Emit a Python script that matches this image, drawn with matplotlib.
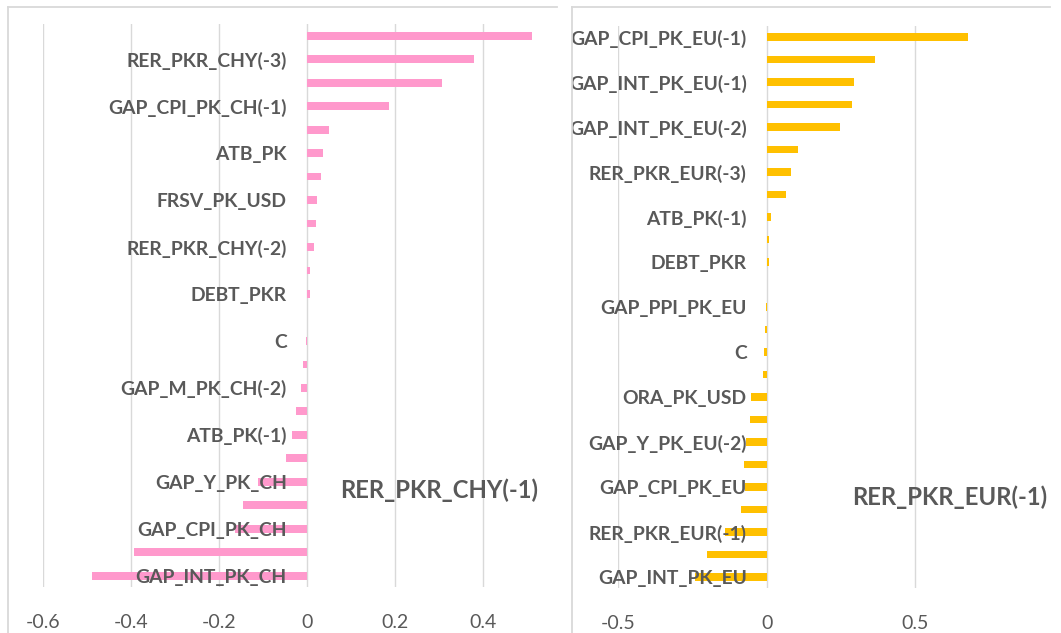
import matplotlib
matplotlib.use("Agg")
import matplotlib.pyplot as plt
from matplotlib.patches import Rectangle
from matplotlib.lines import Line2D

# ---------------- data ----------------
left_title = "RER_PKR_CHY(-1)"
left_labels = ["", "RER_PKR_CHY(-3)", "", "GAP_CPI_PK_CH(-1)", "", "ATB_PK",
               "", "FRSV_PK_USD", "", "RER_PKR_CHY(-2)", "", "DEBT_PKR",
               "", "C", "", "GAP_M_PK_CH(-2)", "", "ATB_PK(-1)",
               "", "GAP_Y_PK_CH", "", "GAP_CPI_PK_CH", "", "GAP_INT_PK_CH"]
left_values = [0.513, 0.381, 0.307, 0.187, 0.050, 0.036,
               0.032, 0.024, 0.022, 0.017, 0.0065, 0.0065,
               0.001, -0.001, -0.008, -0.014, -0.025, -0.033,
               -0.046, -0.110, -0.144, -0.162, -0.392, -0.488]
left_xticks = [-0.6, -0.4, -0.2, 0, 0.2, 0.4, 0.6]
left_xticklabels = ["-0.6", "-0.4", "-0.2", "0", "0.2", "0.4", "0.6"]

right_title = "RER_PKR_EUR(-1)"
right_labels = ["GAP_CPI_PK_EU(-1)", "", "GAP_INT_PK_EU(-1)", "", "GAP_INT_PK_EU(-2)", "",
                "RER_PKR_EUR(-3)", "", "ATB_PK(-1)", "", "DEBT_PKR", "",
                "GAP_PPI_PK_EU", "", "C", "", "ORA_PK_USD", "",
                "GAP_Y_PK_EU(-2)", "", "GAP_CPI_PK_EU", "", "RER_PKR_EUR(-1)", "",
                "GAP_INT_PK_EU"]
right_values = [0.680, 0.364, 0.293, 0.289, 0.246, 0.107,
                0.082, 0.065, 0.0135, 0.009, 0.009, 0.001,
                -0.001, -0.0045, -0.009, -0.0135, -0.054, -0.056,
                -0.070, -0.076, -0.074, -0.088, -0.139, -0.200,
                -0.243]
right_xticks = [-0.5, 0, 0.5]
right_xticklabels = ["-0.5", "0", "0.5"]
right_gridlines = [-0.5, 0, 0.5, 1.0]

# ---------------- style ----------------
W, H = 1061, 633
FONT = "Lato"
TXT = "#595959"
GRID = "#D9D9D9"
PINK = "#FF99CC"
GOLD = "#FFC000"

plt.rcParams["font.family"] = [FONT, "DejaVu Sans"]

fig = plt.figure(figsize=(W / 100, H / 100), dpi=100)
fig.patch.set_facecolor("white")


def frac(x0, y0, x1, y1):
    return [x0 / W, 1 - y1 / H, (x1 - x0) / W, (y1 - y0) / H]


def style(ax, labels, values, color, xlim, xticks, xticklabels, gridlines):
    n = len(values)
    ax.spines["left"].set_position(("data", 0))
    for s in ax.spines.values():
        s.set_visible(False)
    for g in gridlines:
        ax.axvline(g, color=GRID, linewidth=1.0, zorder=0.5)
    ax.barh(range(n), values, height=0.33, color=color, zorder=1)
    ax.yaxis.set_zorder(3)
    ax.xaxis.set_zorder(3)
    ax.set_ylim(n - 0.5, -0.5)
    ax.set_xlim(*xlim)
    ax.set_xticks(xticks)
    ax.set_xticklabels(xticklabels, fontsize=14, color=TXT)
    ax.set_yticks(range(n))
    ax.set_yticklabels(labels, fontsize=13.9, fontweight="bold", color=TXT)
    ax.tick_params(axis="y", length=0, pad=14.4)
    ax.tick_params(axis="x", length=0, pad=19)
    ax.set_facecolor("none")


axL = fig.add_axes(frac(42.7, 24.0, 570.7, 587.4))
axL.set_zorder(0)
style(axL, left_labels, left_values, PINK, (-0.6, 0.6), left_xticks, left_xticklabels,
      left_xticks)

axR = fig.add_axes(frac(618.3, 25.75, 1063.3, 588.25))
axR.set_zorder(2)
style(axR, right_labels, right_values, GOLD, (-0.5, 1.0), right_xticks, right_xticklabels,
      right_gridlines)

# crop masks (the two charts are cropped screenshots side by side)
fig.patches.append(Rectangle((557 / W, 0), (W - 557) / W, 1, transform=fig.transFigure,
                             facecolor="white", edgecolor="none", zorder=1))
fig.patches.append(Rectangle((557 / W, 0), (572 - 557) / W, 1, transform=fig.transFigure,
                             facecolor="white", edgecolor="none", zorder=3))
fig.patches.append(Rectangle((1050 / W, 0), (W - 1050) / W, 1, transform=fig.transFigure,
                             facecolor="white", edgecolor="none", zorder=3))

# chart-area borders
bc = "#D9D9D9"
for xs, ys in [((8, 8), (7, H)), ((8, 557), (7, 7)),
               ((572, 572), (7, H)), ((572, 1050), (7, 7))]:
    fig.lines.append(Line2D([x / W for x in xs], [1 - y / H for y in ys],
                            transform=fig.transFigure, color=bc, linewidth=1.3, zorder=4))

fig.text(439 / W, 1 - 490 / H, left_title, ha="center", va="center",
         fontsize=17.2, fontweight="bold", color=TXT, zorder=5)
fig.text(949.5 / W, 1 - 497 / H, right_title, ha="center", va="center",
         fontsize=17.2, fontweight="bold", color=TXT, zorder=5)

fig.savefig("out.png", dpi=100, facecolor="white")
